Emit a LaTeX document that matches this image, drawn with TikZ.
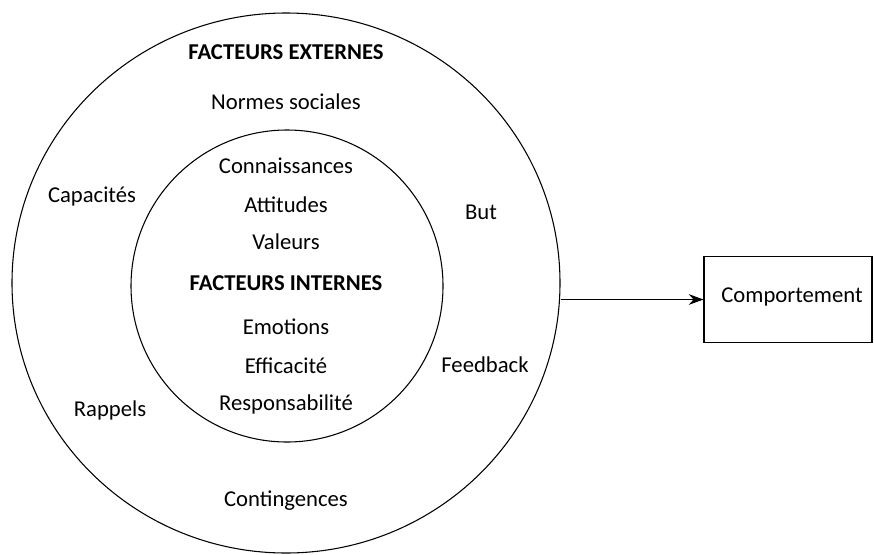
\documentclass[tikz,border=0pt]{standalone}
\usepackage{fontspec}
\setmainfont{Carlito}
\usepackage{tikz}
\usetikzlibrary{arrows.meta,positioning,shapes.geometric}

\tikzset{
  ring/.style={draw,ellipse,line width=0.8pt,inner sep=0pt},
  lbl/.style={font=\fontsize{17}{20}\selectfont},
  head/.style={font=\fontsize{17}{20}\selectfont\bfseries},
  outbox/.style={draw,rectangle,line width=0.8pt,minimum width=126pt,minimum height=64pt}
}

\begin{document}
\begin{tikzpicture}[x=0.75pt,y=-0.75pt]
\useasboundingbox (0,0) rectangle (874,554);
\node[ring,minimum width=411pt,minimum height=405pt] (ext) at (286,283) {};
\node[ring,minimum width=234pt,minimum height=234pt] (int) at (287,286) {};
\node[outbox] (comp) at (788,299.5) {};
\node[lbl] () at (792,297) {Comportement};
\node[head] (ehead) at (286,52) {FACTEURS EXTERNES};
\node[lbl] (norm) at (286,102) {Normes sociales};
\node[lbl] (conn) at (286,166) {Connaissances};
\node[lbl] (att) at (286,205) {Attitudes};
\node[lbl] (val) at (286,242) {Valeurs};
\node[head] (ihead) at (286,283) {FACTEURS INTERNES};
\node[lbl] (emo) at (286,327) {Emotions};
\node[lbl] (eff) at (286,366) {Efficacité};
\node[lbl] (resp) at (286,404) {Responsabilité};
\node[lbl] (cont) at (286,501) {Contingences};
\node[lbl] (cap) at (92,197) {Capacités};
\node[lbl] (rap) at (110,410) {Rappels};
\node[lbl] (but) at (481,212) {But};
\node[lbl] (feed) at (485,365) {Feedback};
\path[-{Stealth[length=11pt,width=8pt]},line width=0.9pt]
(ext.east |- comp.west) edge (comp.west);
\end{tikzpicture}
\end{document}
